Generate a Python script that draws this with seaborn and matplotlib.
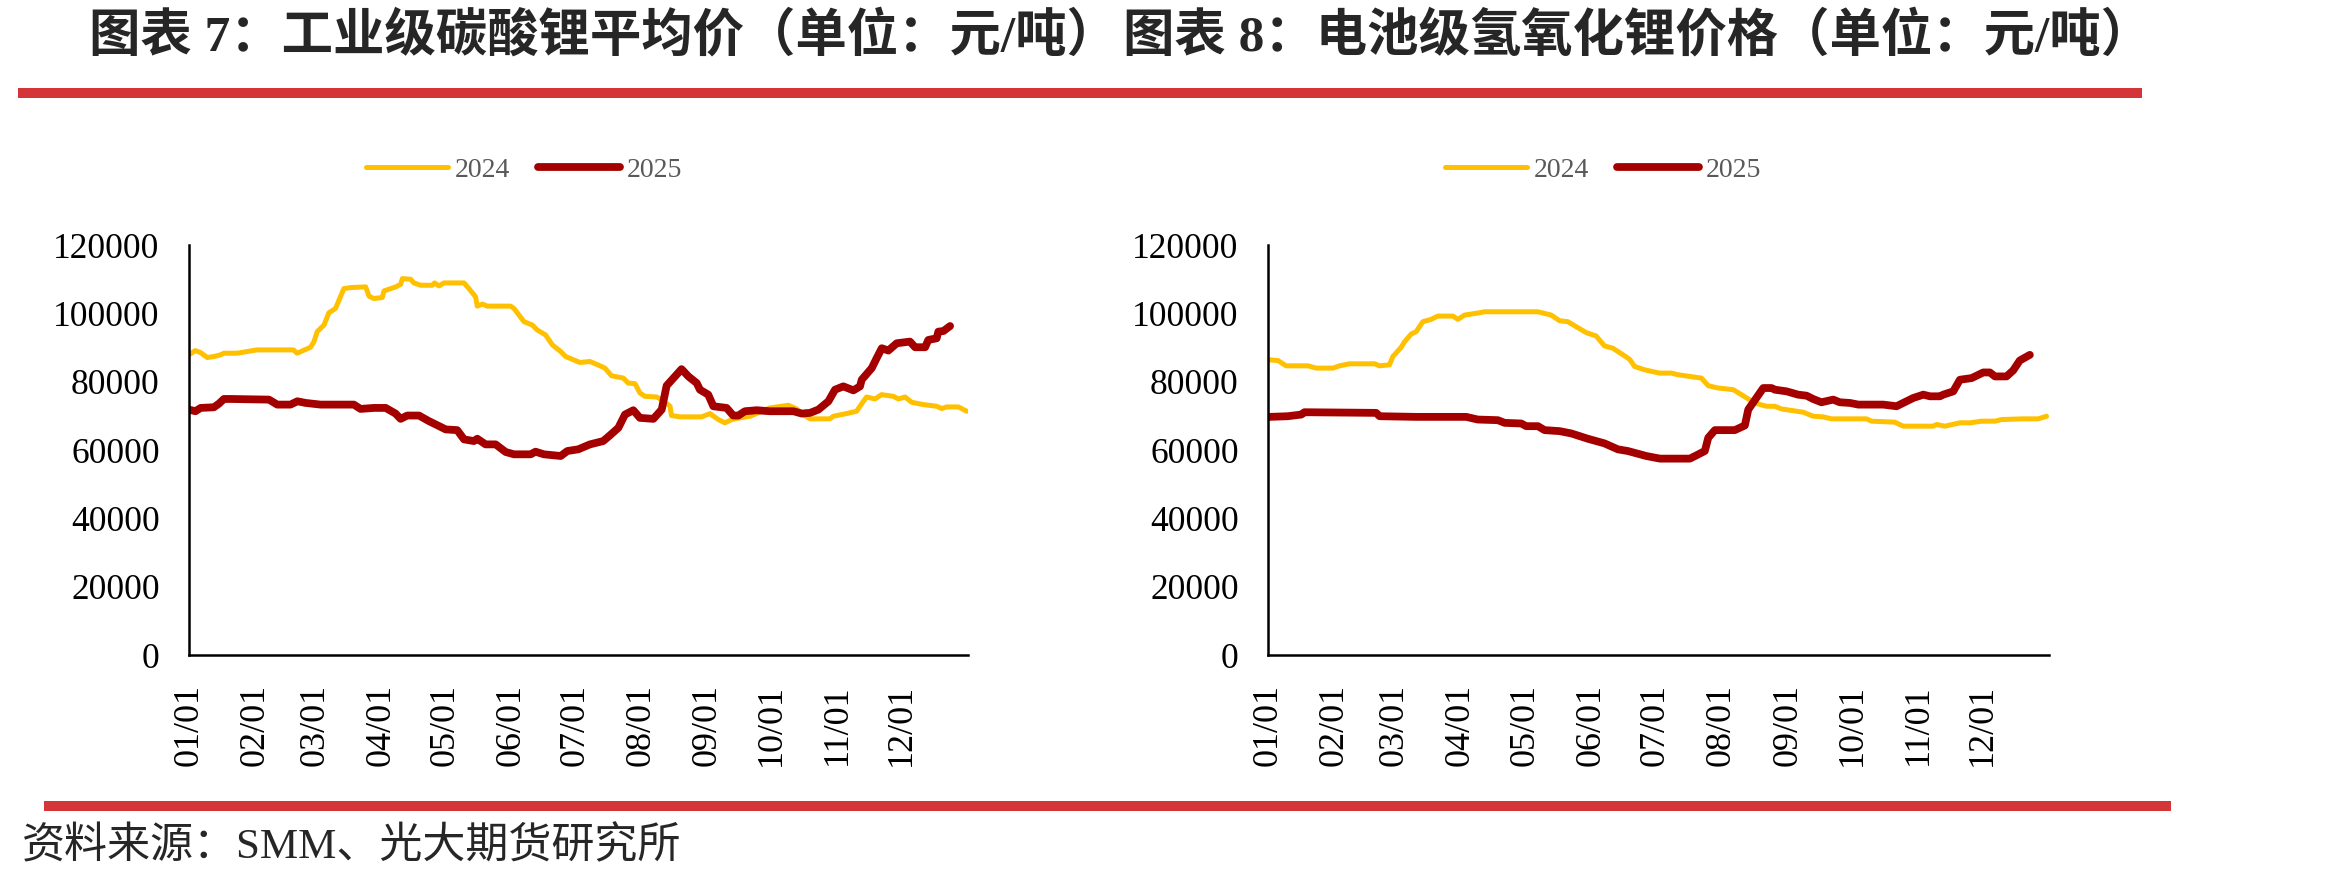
import numpy as np
import pandas as pd
import seaborn as sns
import matplotlib.pyplot as plt
from matplotlib.patches import Rectangle

# ---- data (day of year -> price) ----

month_days = [0, 31, 59, 90, 120, 151, 181, 212, 243, 273, 304, 334, 365]
month_labels = ["01/01", "02/01", "03/01", "04/01", "05/01", "06/01",
                "07/01", "08/01", "09/01", "10/01", "11/01", "12/01", ""]
y_ticks = [0, 20000, 40000, 60000, 80000, 100000, 120000]

# chart 7: industrial grade lithium carbonate
carb_2024_day = [0.5, 3, 5.5, 8.6, 11.7, 14.8, 16.4, 22.6, 31.8, 49, 50.7, 57, 58.6, 60.1, 63.3,
                 65.6, 68.7, 72.6, 75.8, 82.8, 84.4, 86.7, 90.6, 91.4, 96.9, 99.2, 100, 103.9,
                 105.4, 108.6, 114, 115.1, 117.2, 119.5, 128.9, 131.2, 134.3, 135.1, 137.5,
                 139.8, 150.7, 152.3, 157, 160.9, 163.2, 167.1, 170.3, 174.2, 176.5, 183.2,
                 187.9, 192.6, 194.9, 198, 203.5, 205.8, 209, 211.3, 213.6, 219.1, 221.5,
                 225.4, 226.1, 230.1, 240.2, 244.1, 248, 251.1, 254.3, 258.2, 262.9, 272.2,
                 280.8, 284.7, 287.8, 291, 300.3, 301.9, 308.1, 312.8, 316, 317.5, 321.4,
                 324.5, 330, 332.4, 335.5, 338.6, 344.1, 350.3, 352.7, 355, 360.5, 364.4]
carb_2024_val = [88040, 89100, 88500, 87070, 87360, 87850, 88330, 88330, 89300, 89300, 88330,
                 90080, 91730, 94640, 96580, 100170, 101430, 107250, 107540, 107740, 105020,
                 104340, 104630, 106570, 107740, 108510, 110160, 109970, 108900, 108220, 108220,
                 108900, 108030, 108900, 108900, 107250, 104830, 102110, 102690, 102110, 102110,
                 101430, 97550, 96580, 95130, 93670, 90760, 88820, 87360, 85620, 85910, 84650,
                 83970, 81730, 81050, 79600, 79410, 76690, 75720, 75520, 74750, 72810, 70090,
                 69700, 69700, 70670, 68920, 67960, 68920, 69410, 69890, 72320, 73100, 72030,
                 70380, 69120, 69120, 69890, 70670, 71350, 74260, 75520, 74940, 76200, 75720,
                 74940, 75520, 73970, 73290, 72810, 72130, 72610, 72610, 71350]

carb_2025_day = [0, 3.1, 5.5, 11.7, 14.1, 16.4, 19.5, 37.5, 41.4, 47.6, 50.8, 54.7, 61.7, 77.3,
                 80.4, 86.7, 92.2, 96.8, 99.2, 102.3, 107.8, 112.5, 117.2, 120.3, 125.7, 128.9,
                 133.5, 135.1, 139, 143.7, 148.4, 152.3, 160.1, 162.4, 166.3, 174.2, 177.3,
                 182.4, 187.9, 194.1, 197.2, 201.2, 204.3, 208.2, 211.3, 217.6, 221.5, 223.8,
                 230.8, 234, 237.9, 239.4, 243.3, 245.7, 251.9, 255, 257.4, 260.5, 266, 272.2,
                 283.2, 287.1, 291, 294.9, 299.6, 302.7, 306.6, 311.3, 314.4, 315.2, 319.9,
                 322.2, 324.6, 327.7, 331.6, 337.8, 340.2, 344.9, 346.4, 350.3, 351.1, 353.5,
                 356.6]
carb_2025_val = [71830, 71350, 72320, 72510, 73580, 74940, 74940, 74750, 73290, 73290, 74260,
                 73780, 73290, 73290, 72030, 72320, 72320, 70670, 69120, 70090, 70090, 68440,
                 67000, 66030, 65820, 63110, 62620, 63300, 61650, 61650, 59420, 58740, 58740,
                 59510, 58740, 58250, 59710, 60200, 61650, 62620, 64270, 66500, 70380, 71640,
                 69410, 69120, 71830, 78820, 83670, 81540, 79600, 77660, 76200, 72810, 72320,
                 70090, 70090, 71350, 71640, 71350, 71350, 70670, 70870, 71830, 74260, 77660,
                 78630, 77460, 78630, 80570, 83970, 86880, 89790, 89110, 91240, 91730, 90080,
                 90080, 92210, 92700, 94640, 94830, 96290]

# chart 8: battery grade lithium hydroxide
hydr_2024_day = [0.8, 4.7, 8.5, 18.7, 22.6, 30.4, 33.5, 38.1, 49.8, 52.2, 56.8, 58.4, 62.3, 63.9,
                 67, 69.3, 72.4, 76.3, 79.4, 86.4, 88.8, 91.9, 98.9, 101.2, 126.2, 132.4, 136.3,
                 140.2, 144.1, 148.8, 153.4, 157.3, 161.2, 166, 169, 171.4, 176, 183, 188.6,
                 191.7, 202.6, 205.8, 210.4, 217.5, 221.3, 224.5, 228.4, 233, 236.9, 240,
                 250.2, 254.8, 259.5, 263.4, 279.8, 282.1, 293, 296.9, 310.9, 312.5, 316.4,
                 323.4, 328.1, 333.5, 339.8, 342.9, 353, 360, 363.9]
hydr_2024_val = [86390, 86190, 84640, 84640, 83970, 83970, 84640, 85230, 85230, 84640, 84930,
                 87360, 90080, 91730, 93960, 94640, 97550, 98230, 99200, 99200, 98230, 99490,
                 100170, 100460, 100460, 99490, 97840, 97550, 96090, 94350, 93380, 90470,
                 89790, 87850, 86580, 84450, 83480, 82510, 82510, 82020, 81050, 78820, 78140,
                 77660, 76200, 74940, 73580, 72810, 72810, 72030, 71060, 69890, 69700, 69120,
                 69120, 68440, 68150, 66980, 66980, 67470, 66980, 67960, 67960, 68440, 68440,
                 68920, 69120, 69120, 69890]

hydr_2025_day = [0.8, 9.3, 15.6, 17.1, 50.6, 52.2, 69.3, 92.7, 98.1, 107.5, 110.6, 118.4, 120.7,
                 126.2, 129.3, 136.3, 141.8, 149.5, 157.3, 163.6, 168.2, 176.8, 183.2, 197.2,
                 200.3, 204.2, 205.8, 208.9, 218.2, 222.9, 224.5, 231.5, 235.4, 236.9, 242.4,
                 247.8, 251.7, 254.8, 258.7, 264.2, 267.3, 272, 275.9, 287.6, 293.8, 296.9,
                 301.6, 306.3, 309.4, 314.1, 315.6, 320.3, 323.4, 328.9, 334.3, 337.4, 339.8,
                 345.2, 348.3, 351.4, 356.1]
hydr_2025_val = [69700, 69890, 70380, 71060, 70870, 69890, 69700, 69700, 68920, 68730, 67950,
                 67760, 66980, 66980, 65820, 65530, 64850, 63300, 61940, 60190, 59710, 58250,
                 57480, 57480, 58450, 59710, 63590, 65820, 65820, 67180, 71840, 78140, 78140,
                 77660, 77170, 76200, 75910, 74940, 73970, 74750, 73970, 73780, 73290, 73290,
                 72810, 73780, 75230, 76200, 75720, 75720, 76200, 77170, 80570, 81050, 82700,
                 82700, 81540, 81540, 83290, 86200, 87850]

titles = ["图表 7：工业级碳酸锂平均价（单位：元/吨）", "图表 8：电池级氢氧化锂价格（单位：元/吨）"]
source = "资料来源：SMM、光大期货研究所"

c2024 = "#FFC000"
c2025 = "#A50000"
red_bar = "#D43539"

sns.set_style("white")
plt.rcParams["font.family"] = ["Liberation Serif", "Noto Sans CJK SC", "DejaVu Sans"]

fig = plt.figure(figsize=(23.32, 8.81), dpi=100)

ax_pos = [[0.0810, 0.2565, 0.3341, 0.4654], [0.5437, 0.2565, 0.3349, 0.4654]]
series = [(carb_2024_day, carb_2024_val, carb_2025_day, carb_2025_val),
          (hydr_2024_day, hydr_2024_val, hydr_2025_day, hydr_2025_val)]
legend_x = [0.2247, 0.6874]

for i in range(2):
    ax = fig.add_axes(ax_pos[i])
    d24, v24, d25, v25 = series[i]
    sns.lineplot(x=d24, y=v24, ax=ax, color=c2024, linewidth=3.6, label="2024",
                 estimator=None, solid_capstyle="round")
    sns.lineplot(x=d25, y=v25, ax=ax, color=c2025, linewidth=5.6, label="2025",
                 estimator=None, solid_capstyle="round")
    ax.set_xlim(0, 365)
    ax.set_ylim(0, 120000)
    ax.set_xticks(month_days)
    ax.set_xticklabels(month_labels, rotation=90, va="top", ha="center")
    ax.set_yticks(y_ticks)
    ax.set_yticklabels([str(v) for v in y_ticks])
    for s in ["top", "right"]:
        ax.spines[s].set_visible(False)
    for s in ["left", "bottom"]:
        ax.spines[s].set_color("black")
        ax.spines[s].set_linewidth(1.8)
    ax.tick_params(axis="y", direction="in", length=7, width=1.6, pad=21,
                   labelsize=25.5, colors="black")
    ax.tick_params(axis="x", direction="in", length=7, width=1.6, pad=21,
                   labelsize=26, colors="black")
    ax.grid(False)
    leg = ax.legend(loc="center", bbox_to_anchor=(legend_x[i], 0.807),
                    bbox_transform=fig.transFigure, ncol=2, frameon=False,
                    fontsize=20, handlelength=2.95, handletextpad=0.25,
                    columnspacing=1.0)
    for t in leg.get_texts():
        t.set_color("#595959")

    fig.text([0.0382, 0.4816][i], 0.958, titles[i], fontsize=37, fontweight="bold",
             ha="left", va="center")

# red separator bars
fig.add_artist(Rectangle((18 / 2332, 1 - 98 / 881), (2142 - 18) / 2332, 10 / 881,
                         transform=fig.transFigure, color=red_bar, lw=0))
fig.add_artist(Rectangle((44 / 2332, 1 - 811 / 881), (2171 - 44) / 2332, 10 / 881,
                         transform=fig.transFigure, color=red_bar, lw=0))

fig.text(22 / 2332, 1 - 847 / 881, source, fontsize=31, ha="left", va="center")

fig.savefig("out.png", dpi=100, facecolor="white")
